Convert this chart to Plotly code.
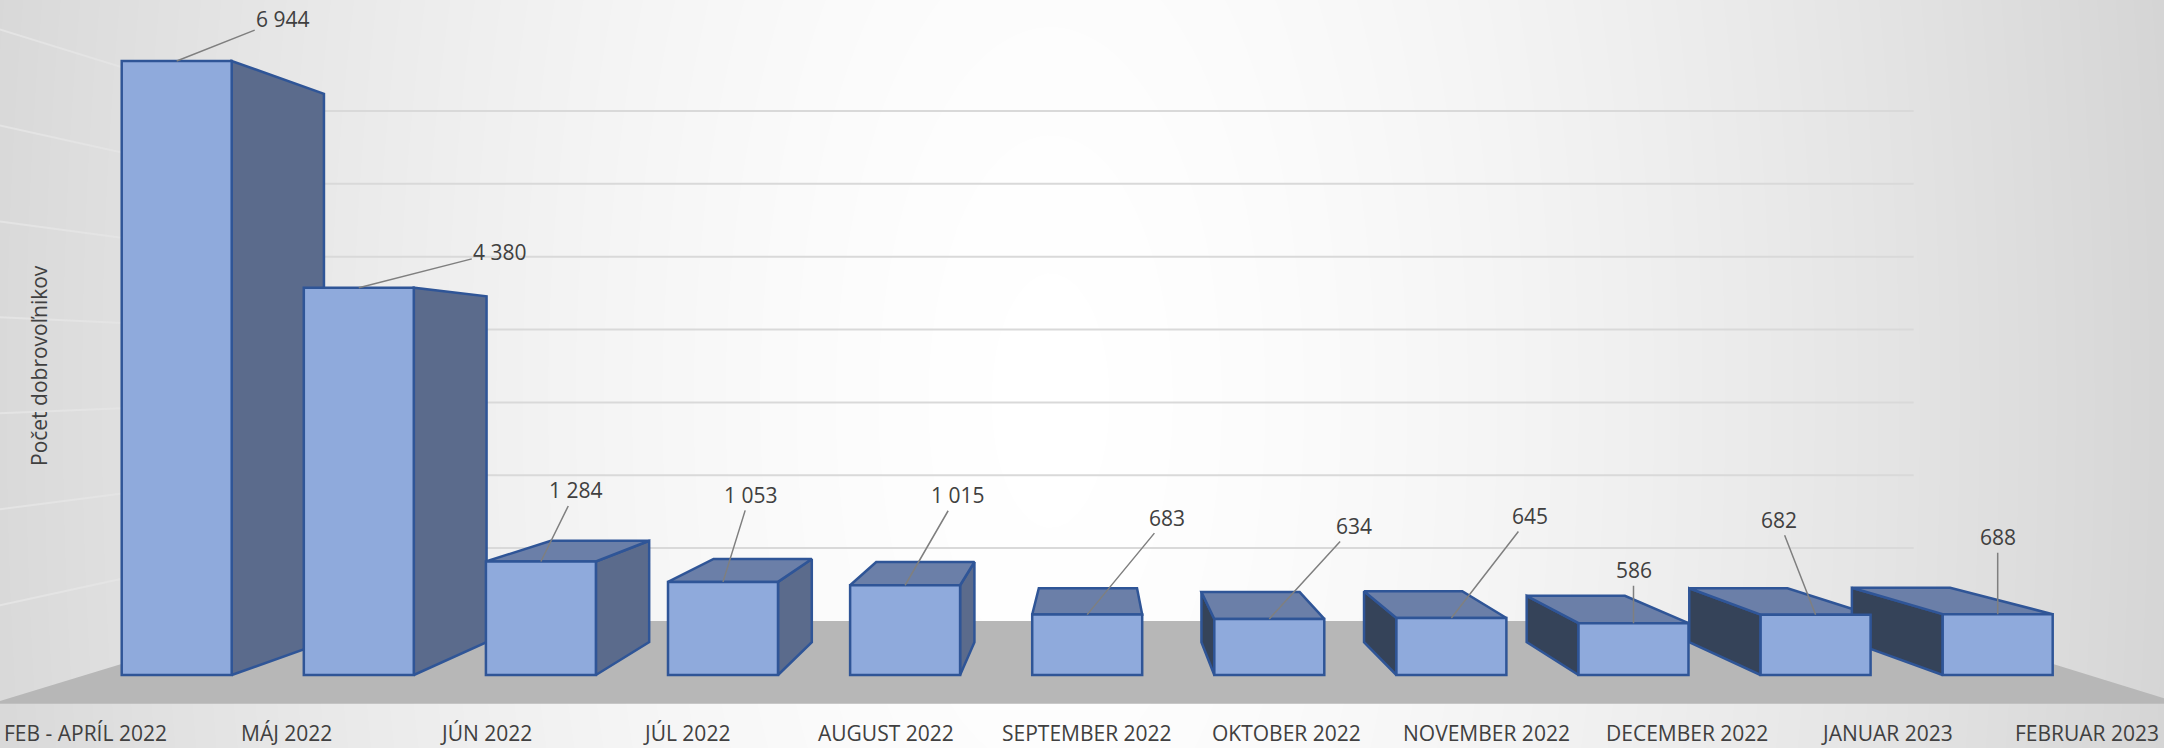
import numpy as np
import plotly.graph_objects as go

# ---------------- data ----------------
categories = ["FEB - APRÍL 2022", "MÁJ 2022", "JÚN 2022", "JÚL 2022", "AUGUST 2022",
              "SEPTEMBER 2022", "OKTOBER 2022", "NOVEMBER 2022", "DECEMBER 2022",
              "JANUAR 2023", "FEBRUAR 2023"]
values = [6944, 4380, 1284, 1053, 1015, 683, 634, 645, 586, 682, 688]
value_labels = ["6 944", "4 380", "1 284", "1 053", "1 015", "683", "634", "645", "586", "682", "688"]
gridline_values = [1000, 2000, 3000, 4000, 5000, 6000, 7000]
y_title = "Počet dobrovoľnikov"

# ---------------- layout / perspective settings ----------------
W, H = 2164, 748
PX_PER_CAT = 182.1          # pixels per category at the bars' front plane
X0_PX = 176.7               # pixel x of first category
PX_PER_VAL = 0.08842        # pixels per unit value
BASE_PX = 675.0             # pixel y of value 0 on the front plane

x_range = [(0 - X0_PX) / PX_PER_CAT, (W - X0_PX) / PX_PER_CAT]
y_range = [(BASE_PX - H) / PX_PER_VAL, BASE_PX / PX_PER_VAL]

VPX, VPY = 5.037, 3473.0    # vanishing point (data coords)
S_BACK = 0.893              # bar back face scale
S_WALL = 0.824              # back wall scale
S_FLOOR = 1.094             # front edge of floor scale
S_LABEL = 1.099
HALF_W = 0.302
WALL_L, WALL_R = -0.5, len(categories) - 0.5
FONT = "Open Sans"


def proj(X, V, s):
    return VPX + (X - VPX) * s, VPY + (V - VPY) * s


def poly(pts):
    xs, ys = zip(*[proj(*p) for p in pts])
    return list(xs) + [xs[0]], list(ys) + [ys[0]]


fig = go.Figure()

# ---------------- background gradient ----------------
gx = np.linspace(0, W, 220)
gy = np.linspace(0, H, 80)
PX, PY = np.meshgrid(gx, gy)
d = np.sqrt(((PX - 1050) / 1150) ** 2 + ((PY - 400) / 2500) ** 2)
g = 1 - np.clip(d, 0, 1.2) ** 1.5 / 1.2 ** 1.5
fig.add_trace(go.Heatmap(
    x=(gx - X0_PX) / PX_PER_CAT, y=(BASE_PX - gy) / PX_PER_VAL, z=g,
    colorscale=[[0, "rgb(198,198,198)"], [1, "rgb(255,255,255)"]],
    zmin=0, zmax=1, zsmooth="best", showscale=False, hoverinfo="skip"))

# ---------------- walls gridlines ----------------
for v in gridline_values:
    (xa, ya), (xb, yb) = proj(WALL_L, v, S_WALL), proj(WALL_R, v, S_WALL)
    fig.add_trace(go.Scatter(x=[xa, xb], y=[ya, yb], mode="lines",
                             line=dict(color="#d9d9d9", width=2),
                             hoverinfo="skip", showlegend=False))
    (xc, yc) = proj(WALL_L, v, 1.6)
    fig.add_trace(go.Scatter(x=[xa, xc], y=[ya, yc], mode="lines",
                             line=dict(color="#e4e4e4", width=2),
                             hoverinfo="skip", showlegend=False))

# ---------------- floor ----------------
fx, fy = poly([(WALL_L, 0, S_FLOOR), (WALL_R, 0, S_FLOOR), (WALL_R, 0, S_WALL), (WALL_L, 0, S_WALL)])
fig.add_trace(go.Scatter(x=fx, y=fy, mode="lines", fill="toself", fillcolor="#b7b7b7",
                         line=dict(width=0, color="#b7b7b7"), hoverinfo="skip", showlegend=False))

# ---------------- bar side / top faces ----------------
EDGE = "#2f5597"
for i, v in enumerate(values):
    faces = []
    if i + HALF_W < VPX:
        faces.append(([(i + HALF_W, 0, 1), (i + HALF_W, v, 1), (i + HALF_W, v, S_BACK), (i + HALF_W, 0, S_BACK)], "#5b6b8c"))
    if i - HALF_W > VPX:
        faces.append(([(i - HALF_W, 0, 1), (i - HALF_W, v, 1), (i - HALF_W, v, S_BACK), (i - HALF_W, 0, S_BACK)], "#354359"))
    if v < VPY:
        faces.append(([(i - HALF_W, v, 1), (i + HALF_W, v, 1), (i + HALF_W, v, S_BACK), (i - HALF_W, v, S_BACK)], "#6b7fa8"))
    for pts, col in faces:
        px_, py_ = poly(pts)
        fig.add_trace(go.Scatter(x=px_, y=py_, mode="lines", fill="toself", fillcolor=col,
                                 line=dict(color=EDGE, width=2.5), hoverinfo="skip", showlegend=False))

# ---------------- bar front faces (overlay axes so they sit on top) ----------------
fig.add_trace(go.Bar(x=list(range(len(values))), y=values, width=2 * HALF_W,
                     marker=dict(color="#8faadc", line=dict(color=EDGE, width=2.5)),
                     xaxis="x2", yaxis="y2", showlegend=False,
                     hovertext=categories, hoverinfo="text+y"))

# ---------------- data labels ----------------
label_offsets = [(106, -42), (141, -36), (35, -71), (27, -87), (52, -90), (80, -97),
                 (85, -93), (79, -102), (0, -53), (-37, -95), (0, -77)]
for i, (v, t) in enumerate(zip(values, value_labels)):
    ax, ay = label_offsets[i]
    fig.add_annotation(x=i, y=v, xref="x2", yref="y2", text=t, showarrow=True,
                       arrowhead=0, arrowwidth=1.5, arrowcolor="#7f7f7f", standoff=0,
                       ax=ax, ay=ay, font=dict(family=FONT, size=21, color="#404040"))

# ---------------- category labels (along the floor's front edge) ----------------
for i, c in enumerate(categories):
    fig.add_annotation(x=proj(i, 0, S_LABEL)[0], y=(H - 733) / H, xref="x", yref="paper",
                       text=c, showarrow=False, yanchor="middle",
                       font=dict(family=FONT, size=21, color="#404040"))

fig.add_annotation(x=23 / W, y=1 - 366 / H, xref="paper", yref="paper", text=y_title,
                   textangle=-90, showarrow=False,
                   font=dict(family=FONT, size=21, color="#404040"))

fig.update_layout(
    width=W, height=H, margin=dict(l=0, r=0, t=0, b=0),
    paper_bgcolor="#d8d8d8", plot_bgcolor="rgba(0,0,0,0)",
    showlegend=False,
    xaxis=dict(range=x_range, showticklabels=False, ticks="", showgrid=False,
               zeroline=False, showline=False),
    yaxis=dict(range=y_range, visible=False),
    xaxis2=dict(range=x_range, overlaying="x", visible=False),
    yaxis2=dict(range=y_range, overlaying="y", visible=False),
)

fig.write_html("out.html", config={"displayModeBar": False},
               post_script="document.body.style.margin='0';")
